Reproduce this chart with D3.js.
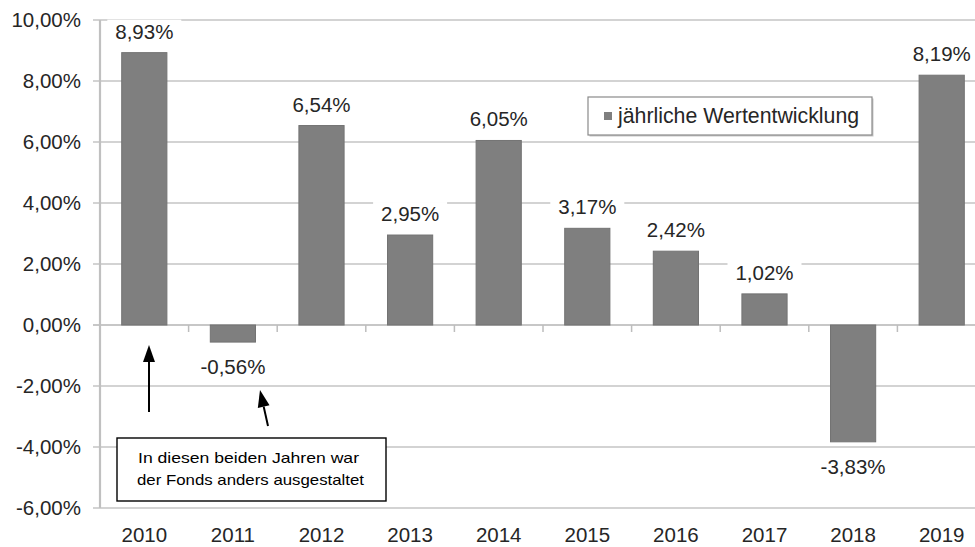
<!DOCTYPE html>
<html>
<head>
<meta charset="utf-8">
<script src="https://cdn.jsdelivr.net/npm/d3@7"></script>
<style>
  body { margin: 0; background: #fff; }
  text { font-family: "Liberation Sans", Arial, sans-serif; fill: #262626; }
</style>
</head>
<body>
<div id="chart"></div>
<script>
// data
var years = ["2010", "2011", "2012", "2013", "2014", "2015", "2016", "2017", "2018", "2019"];
var returns = [8.93, -0.56, 6.54, 2.95, 6.05, 3.17, 2.42, 1.02, -3.83, 8.19];
var yTicks = [-6, -4, -2, 0, 2, 4, 6, 8, 10];
var seriesName = "jährliche Wertentwicklung";
var noteLines = ["In diesen beiden Jahren war", "der Fonds anders ausgestaltet"];

var svgWidth = 975;
var svgHeight = 547;

var fmt = function(v) { return v.toFixed(2).replace(".", ",") + "%"; };

var svg = d3.select("#chart")
  .append("svg")
  .attr("width", svgWidth)
  .attr("height", svgHeight);

var xScale = d3.scaleBand()
  .domain(years)
  .range([100, 986])
  .paddingInner(0.49)
  .paddingOuter(0.245);

var yScale = d3.scaleLinear()
  .domain([-6, 10])
  .range([508, 20]);

// gridlines
svg.append("g")
  .selectAll("line")
  .data(yTicks)
  .enter()
  .append("line")
  .attr("x1", 93)
  .attr("x2", 986)
  .attr("y1", d => yScale(d))
  .attr("y2", d => yScale(d))
  .attr("stroke", d => d === 0 ? "#b4b4b4" : "#c4c4c4")
  .attr("stroke-width", 1.6);

// y axis line
svg.append("line")
  .attr("x1", 100).attr("x2", 100)
  .attr("y1", yScale(10)).attr("y2", yScale(-6))
  .attr("stroke", "#c0c0c0")
  .attr("stroke-width", 2.2);

// category ticks under the zero line
svg.append("g")
  .selectAll("line")
  .data(years.slice(1))
  .enter()
  .append("line")
  .attr("x1", d => xScale(d) - xScale.step() * xScale.paddingInner() / 2)
  .attr("x2", d => xScale(d) - xScale.step() * xScale.paddingInner() / 2)
  .attr("y1", yScale(0))
  .attr("y2", yScale(0) + 7)
  .attr("stroke", "#bdbdbd")
  .attr("stroke-width", 1.5);

// y tick labels
svg.append("g")
  .selectAll("text")
  .data(yTicks)
  .enter()
  .append("text")
  .attr("x", 81)
  .attr("y", d => yScale(d) + 7)
  .attr("text-anchor", "end")
  .attr("font-size", "20.5px")
  .text(d => fmt(d));

// x labels
svg.append("g")
  .selectAll("text")
  .data(years)
  .enter()
  .append("text")
  .attr("x", d => xScale(d) + xScale.bandwidth() / 2)
  .attr("y", 542)
  .attr("text-anchor", "middle")
  .attr("font-size", "20.5px")
  .text(d => d);

// bars
svg.append("g")
  .selectAll("rect")
  .data(returns)
  .enter()
  .append("rect")
  .attr("x", (d, i) => xScale(years[i]))
  .attr("y", d => yScale(Math.max(0, d)))
  .attr("width", xScale.bandwidth())
  .attr("height", d => Math.abs(yScale(d) - yScale(0)))
  .attr("fill", "#7f7f7f")
  .attr("stroke", "#737373")
  .attr("stroke-width", 1);

// value labels with white backing
var labels = svg.append("g")
  .selectAll("g")
  .data(returns)
  .enter()
  .append("g")
  .attr("transform", (d, i) => {
    var cx = xScale(years[i]) + xScale.bandwidth() / 2;
    var by = d >= 0 ? yScale(d) - 14 : yScale(d) + 32;
    return `translate(${cx}, ${by})`;
  });

labels.append("rect")
  .attr("x", -37)
  .attr("y", -19)
  .attr("width", 74)
  .attr("height", 25)
  .attr("fill", "#fff");

labels.append("text")
  .attr("text-anchor", "middle")
  .attr("font-size", "20.5px")
  .text(d => fmt(d));

// legend
var legend = svg.append("g").attr("transform", "translate(588, 97)");
legend.append("rect")
  .attr("x", 1.5).attr("y", 1.5)
  .attr("width", 284).attr("height", 38)
  .attr("fill", "#c8c8c8");
legend.append("rect")
  .attr("width", 284).attr("height", 38)
  .attr("fill", "#fff")
  .attr("stroke", "#8a8a8a")
  .attr("stroke-width", 1.2);
legend.append("rect")
  .attr("x", 16).attr("y", 15)
  .attr("width", 8).attr("height", 8)
  .attr("fill", "#7f7f7f");
legend.append("text")
  .attr("x", 30)
  .attr("y", 26)
  .attr("font-size", "21.3px")
  .text(seriesName);

// note box
var note = svg.append("g").attr("transform", "translate(117, 438)");
note.append("rect")
  .attr("width", 269).attr("height", 63)
  .attr("fill", "#fff")
  .attr("stroke", "#000")
  .attr("stroke-width", 1.4);
note.selectAll("text")
  .data(noteLines)
  .enter()
  .append("text")
  .attr("x", (d, i) => i === 0 ? 21 : 20)
  .attr("y", (d, i) => 25 + i * 22)
  .attr("font-size", "15px")
  .attr("textLength", (d, i) => i === 0 ? 221 : 227)
  .attr("lengthAdjust", "spacingAndGlyphs")
  .style("fill", "#000")
  .text(d => d);

// arrows pointing at the two years
var arrows = [
  { x1: 149, y1: 412, x2: 149, y2: 345 },
  { x1: 268, y1: 426, x2: 260, y2: 390 }
];
arrows.forEach(function(a) {
  var ang = Math.atan2(a.y2 - a.y1, a.x2 - a.x1);
  var len = 17, half = 6;
  var bx = a.x2 - len * Math.cos(ang), by = a.y2 - len * Math.sin(ang);
  var px = -Math.sin(ang) * half, py = Math.cos(ang) * half;
  svg.append("line")
    .attr("x1", a.x1).attr("y1", a.y1)
    .attr("x2", bx).attr("y2", by)
    .attr("stroke", "#000")
    .attr("stroke-width", 2);
  svg.append("path")
    .attr("d", `M${a.x2},${a.y2}L${bx + px},${by + py}L${bx - px},${by - py}Z`)
    .attr("fill", "#000");
});
</script>
</body>
</html>
